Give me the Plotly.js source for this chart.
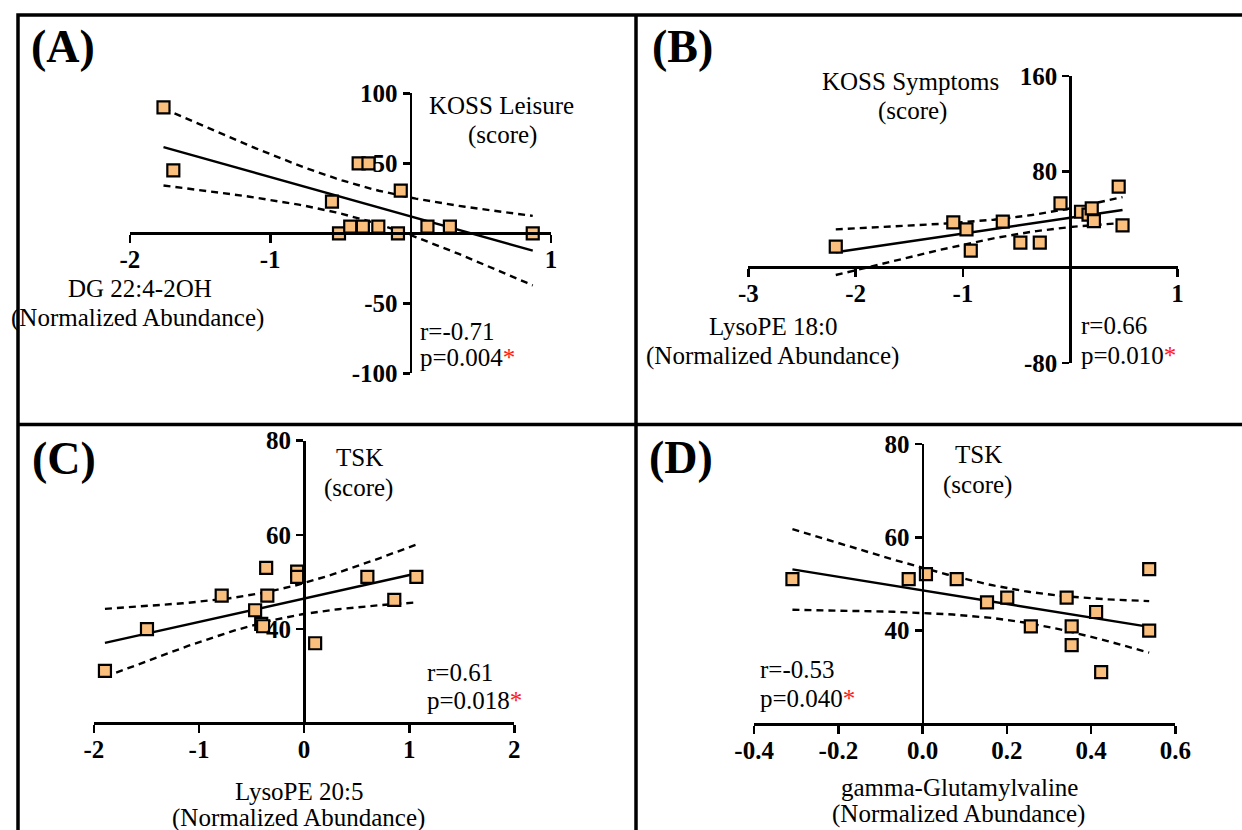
<!DOCTYPE html>
<html>
<head>
<meta charset="utf-8">
<script src="https://cdn.plot.ly/plotly-3.0.1.min.js"></script>
<style>
html,body{margin:0;padding:0;background:#fff;}
#chart{width:1242px;height:830px;}
</style>
</head>
<body>
<div id="chart"></div>
<script>
// ---------- DATA ----------
// (A) DG 22:4-2OH vs KOSS Leisure
const aX = [-1.76, -1.69, -0.37, -0.30, -0.07, -0.56, -0.51, -0.43, -0.34, -0.23, -0.09, 0.12, 0.28, 0.87];
const aY = [90, 45, 50, 50, 30.5, 22.6, 0, 4.8, 4.8, 4.8, 0, 4.8, 4.8, 0];
// (B) LysoPE 18:0 vs KOSS Symptoms
const bX = [-2.185, -1.09, -0.967, -0.927, -0.629, -0.465, -0.284, -0.091, 0.10, 0.17, 0.20, 0.22, 0.451, 0.487];
const bY = [17.3, 37.6, 31.8, 13.9, 38.2, 20.6, 20.6, 53.5, 46.5, 44, 49.3, 38.7, 67.5, 35.1];
// (C) LysoPE 20:5 vs TSK
const cX = [-1.895, -1.495, -0.784, -0.466, -0.408, -0.39, -0.361, -0.35, -0.066, -0.066, 0.105, 0.602, 0.858, 1.068];
const cY = [31.15, 40.0, 47.1, 44.0, 41.1, 40.6, 53.0, 47.1, 52.2, 51.1, 37.0, 51.1, 46.2, 51.1];
// (D) gamma-Glutamylvaline vs TSK
const dX = [-0.309, -0.033, 0.008, 0.081, 0.153, 0.201, 0.257, 0.342, 0.354, 0.354, 0.412, 0.424, 0.538, 0.538];
const dY = [51.06, 51.06, 52.1, 51.06, 46.07, 47.1, 40.9, 47.1, 40.9, 36.9, 44.0, 31.1, 53.2, 40.0];

// tick values / labels
const aXTicks = [-2, -1, 1];            const aXLabels = ['-2', '-1', '1'];
const aYTicks = [-100, -50, 50, 100];   const aYLabels = ['-100', '-50', '50', '100'];
const bXTicks = [-3, -2, -1, 1];        const bXLabels = ['-3', '-2', '-1', '1'];
const bYTicks = [-80, 80, 160];         const bYLabels = ['-80', '80', '160'];
const cXTicks = [-2, -1, 0, 1, 2];      const cXLabels = ['-2', '-1', '0', '1', '2'];
const cYTicks = [40, 60, 80];           const cYLabels = ['40', '60', '80'];
const dXTicks = [-0.4, -0.2, 0, 0.2, 0.4, 0.6]; const dXLabels = ['-0.4', '-0.2', '0.0', '0.2', '0.4', '0.6'];
const dYTicks = [40, 60, 80];           const dYLabels = ['40', '60', '80'];

// ---------- HELPERS ----------
const W = 1242, H = 830;
const px = x => x / W;
const py = y => 1 - y / H;
const SERIF = 'Liberation Serif';
const T975 = {10: 2.228, 11: 2.201, 12: 2.179, 13: 2.160, 14: 2.145, 15: 2.131, 16: 2.120};

function regression(xs, ys) {
  const n = xs.length;
  const mx = xs.reduce((s, v) => s + v, 0) / n;
  const my = ys.reduce((s, v) => s + v, 0) / n;
  let sxx = 0, sxy = 0, syy = 0;
  for (let i = 0; i < n; i++) {
    sxx += (xs[i] - mx) ** 2; sxy += (xs[i] - mx) * (ys[i] - my); syy += (ys[i] - my) ** 2;
  }
  const b = sxy / sxx, a = my - b * mx;
  const s = Math.sqrt((syy - b * sxy) / (n - 2));
  const t = T975[n - 2] || 2.0;
  const xmin = Math.min(...xs), xmax = Math.max(...xs);
  const gx = [], up = [], lo = [], fy = [];
  const steps = 60;
  for (let k = 0; k <= steps; k++) {
    const x = xmin + (xmax - xmin) * k / steps;
    const yh = a + b * x;
    const se = s * Math.sqrt(1 / n + (x - mx) ** 2 / sxx);
    gx.push(x); fy.push(yh); up.push(yh + t * se); lo.push(yh - t * se);
  }
  return {gx, fy, up, lo};
}

// ---------- GEOMETRY ----------
const panels = [
  {key: '',  xs: aX, ys: aY, x0: 129.8, x1: 551.0, yTop: 93.3, yBot: 373.3, xr: [-2, 1], yr: [-100, 100], xAxisAtY: 0, yAxisAtX: 0,
   xt: aXTicks, xtl: aXLabels, yt: aYTicks, ytl: aYLabels},
  {key: '2', xs: bX, ys: bY, x0: 748.3, x1: 1177.6, yTop: 76.0, yBot: 363.0, xr: [-3, 1], yr: [-80, 160], xAxisAtY: 0, yAxisAtX: 0,
   xt: bXTicks, xtl: bXLabels, yt: bYTicks, ytl: bYLabels},
  {key: '3', xs: cX, ys: cY, x0: 93.9, x1: 514.3, yTop: 440.7, yBot: 723.3, xr: [-2, 2], yr: [20, 80], xAxisAtY: 20, yAxisAtX: 0,
   xt: cXTicks, xtl: cXLabels, yt: cYTicks, ytl: cYLabels},
  {key: '4', xs: dX, ys: dY, x0: 754.1, x1: 1175.3, yTop: 444.0, yBot: 724.0, xr: [-0.4, 0.6], yr: [20, 80], xAxisAtY: 20, yAxisAtX: 0,
   xt: dXTicks, xtl: dXLabels, yt: dYTicks, ytl: dYLabels}
];

const traces = [];
const layout = {
  width: W, height: H,
  margin: {l: 0, r: 0, t: 0, b: 0},
  paper_bgcolor: '#ffffff', plot_bgcolor: 'rgba(0,0,0,0)',
  showlegend: false,
  font: {family: SERIF, size: 24, color: '#000'},
  shapes: [], annotations: []
};

const bold = s => '<b>' + s + '</b>';

panels.forEach(p => {
  const xd = [px(p.x0), px(p.x1)];
  const yd = [py(p.yBot), py(p.yTop)];
  const xPos = yd[0] + (p.xAxisAtY - p.yr[0]) / (p.yr[1] - p.yr[0]) * (yd[1] - yd[0]);
  const yPos = xd[0] + (p.yAxisAtX - p.xr[0]) / (p.xr[1] - p.xr[0]) * (xd[1] - xd[0]);
  layout['xaxis' + p.key] = {
    domain: xd, range: p.xr, anchor: 'free', position: xPos,
    showline: true, linecolor: '#000', linewidth: 2.6,
    ticks: 'outside', ticklen: 8, tickwidth: 2.6, tickcolor: '#000',
    tickmode: 'array', tickvals: p.xt, ticktext: p.xtl.map(bold),
    tickfont: {family: SERIF, size: 25, color: '#000'}, ticklabelstandoff: -5,
    showgrid: false, zeroline: false, fixedrange: true
  };
  layout['yaxis' + p.key] = {
    domain: yd, range: p.yr, anchor: 'free', position: yPos,
    showline: true, linecolor: '#000', linewidth: 2.6,
    ticks: 'outside', ticklen: 7, tickwidth: 2.6, tickcolor: '#000',
    tickmode: 'array', tickvals: p.yt, ticktext: p.ytl.map(bold),
    tickfont: {family: SERIF, size: 25, color: '#000'},
    showgrid: false, zeroline: false, fixedrange: true
  };
  const xa = 'x' + p.key, ya = 'y' + p.key;
  const r = regression(p.xs, p.ys);
  const dashLine = {color: '#000', width: 2.4, dash: '7px,5px'};
  traces.push({x: r.gx, y: r.up, xaxis: xa, yaxis: ya, mode: 'lines', line: dashLine, hoverinfo: 'skip', cliponaxis: false});
  traces.push({x: r.gx, y: r.lo, xaxis: xa, yaxis: ya, mode: 'lines', line: dashLine, hoverinfo: 'skip', cliponaxis: false});
  traces.push({x: r.gx, y: r.fy, xaxis: xa, yaxis: ya, mode: 'lines', line: {color: '#000', width: 2.4}, hoverinfo: 'skip', cliponaxis: false});
  traces.push({x: p.xs, y: p.ys, xaxis: xa, yaxis: ya, mode: 'markers', cliponaxis: false,
    marker: {symbol: 'square', size: 12, color: '#FBBF7D', line: {color: '#000', width: 2.2}}});
});

// ---------- FRAME ----------
const frameLine = {color: '#000', width: 3.5};
layout.shapes.push({type: 'rect', xref: 'paper', yref: 'paper', x0: px(18), x1: px(1300), y0: py(900), y1: py(15), line: frameLine});
layout.shapes.push({type: 'line', xref: 'paper', yref: 'paper', x0: px(636), x1: px(636), y0: py(15), y1: py(900), line: frameLine});
layout.shapes.push({type: 'line', xref: 'paper', yref: 'paper', x0: px(18), x1: px(1300), y0: py(424.5), y1: py(424.5), line: frameLine});

// ---------- TEXT ----------
function txt(text, x, y, opts) {
  opts = opts || {};
  layout.annotations.push({
    text: opts.bold ? '<b>' + text + '</b>' : text, xref: 'paper', yref: 'paper', x: px(x), y: py(y),
    xanchor: opts.anchor || 'center', yanchor: 'middle', showarrow: false,
    font: {family: SERIF, size: opts.size || 25, color: '#000'}
  });
}
const star = "<span style='color:#FF1A1A'>*</span>";

txt('(A)', 63, 46, {size: 46, bold: true});
txt('KOSS Leisure', 501, 105);
txt('(score)', 502, 135);
txt('DG 22:4-2OH', 140, 288);
txt('(Normalized Abundance)', 137, 318);
txt('r=-0.71', 418, 331, {anchor: 'left'});
txt('p=0.004' + star, 418, 357, {anchor: 'left'});

txt('(B)', 682, 46, {size: 46, bold: true});
txt('KOSS Symptoms', 910, 81);
txt('(score)', 912, 111);
txt('LysoPE 18:0', 773, 326);
txt('(Normalized Abundance)', 772, 356);
txt('r=0.66', 1079, 325, {anchor: 'left'});
txt('p=0.010' + star, 1079, 355, {anchor: 'left'});

txt('(C)', 64, 458, {size: 46, bold: true});
txt('TSK', 359, 457);
txt('(score)', 358, 488);
txt('r=0.61', 425, 672, {anchor: 'left'});
txt('p=0.018' + star, 425, 700, {anchor: 'left'});
txt('LysoPE 20:5', 299, 791);
txt('(Normalized Abundance)', 298, 818);

txt('(D)', 681, 457, {size: 46, bold: true});
txt('TSK', 978, 454);
txt('(score)', 977, 485);
txt('r=-0.53', 758, 669, {anchor: 'left'});
txt('p=0.040' + star, 758, 698, {anchor: 'left'});
txt('gamma-Glutamylvaline', 959, 787);
txt('(Normalized Abundance)', 958, 814);

Plotly.newPlot('chart', traces, layout, {staticPlot: true, displayModeBar: false});
</script>
</body>
</html>
